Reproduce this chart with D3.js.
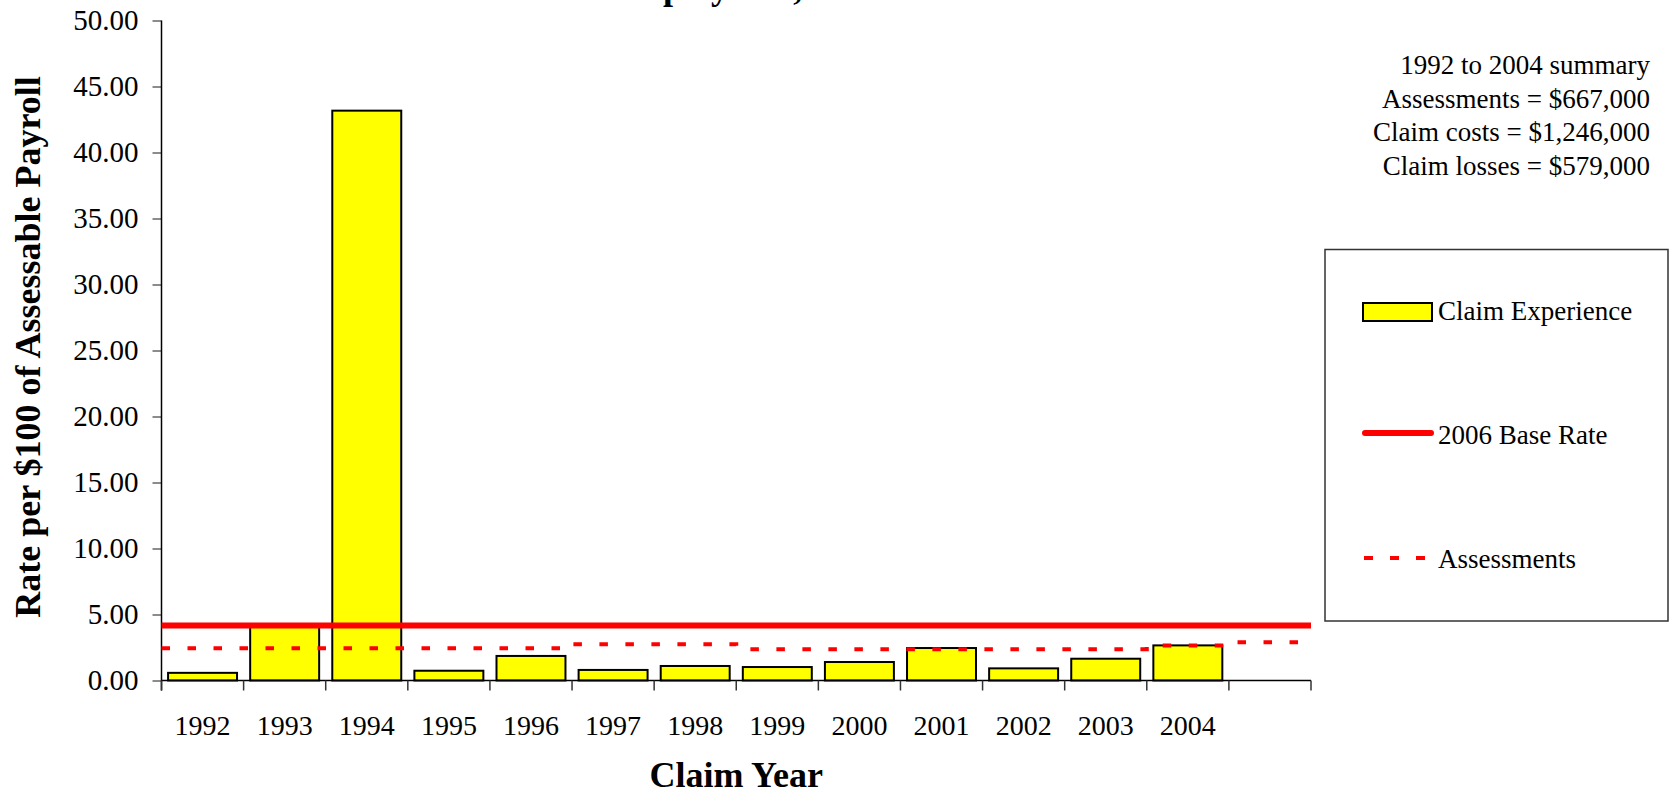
<!DOCTYPE html>
<html><head><meta charset="utf-8">
<script src="https://cdn.jsdelivr.net/npm/d3@7"></script>
<style>
html,body{margin:0;padding:0;background:#fff;}
svg{display:block;}
text{font-family:"Liberation Serif","Times New Roman",serif;fill:#000;}
</style>
</head><body>
<svg id="chart" width="1673" height="796"></svg>
<script>
// ---- data ----
const categories = ["1992","1993","1994","1995","1996","1997","1998","1999","2000","2001","2002","2003","2004","2005"];
const tickLabels = ["1992","1993","1994","1995","1996","1997","1998","1999","2000","2001","2002","2003","2004",""];
const claimExperience = [0.58,4.10,43.17,0.74,1.86,0.80,1.10,1.02,1.40,2.46,0.92,1.65,2.66,null];
const assessments = [2.44,2.44,2.44,2.44,2.44,2.75,2.75,2.37,2.37,2.37,2.37,2.37,2.65,2.89];
const baseRate = [4.17];
const yTicks = [0,5,10,15,20,25,30,35,40,45,50];
const summaryLines = ["1992 to 2004 summary","Assessments = $667,000","Claim costs = $1,246,000","Claim losses = $579,000"];
const legendLabels = ["Claim Experience","2006 Base Rate","Assessments"];
const titleText = "Employer A, 1992 to 2004";
const xTitle = "Claim Year";
const yTitle = "Rate per $100 of Assessable Payroll";

// ---- layout ----
const svg = d3.select("#chart");
const plotLeft = 161.5, plotRight = 1311, plotTop = 20.5, plotBottom = 680.5;

const x = d3.scaleBand().domain(categories).range([plotLeft, plotRight]).padding(0);
const xBar = d3.scaleBand().domain(categories).range([plotLeft, plotRight]).paddingInner(0.16).paddingOuter(0.08);
const y = d3.scaleLinear().domain([0, 50]).range([plotBottom, plotTop]);

// title (cut off at top as in the reference)
svg.append("text").attr("x", 609).attr("y", -1)
  .style("font-size", "36px").style("font-weight", "bold").text(titleText);

// bars
svg.append("g").selectAll("rect")
  .data(categories.map((c, i) => ({c, v: claimExperience[i]})).filter(d => d.v != null))
  .join("rect")
  .attr("x", d => xBar(d.c)).attr("width", xBar.bandwidth())
  .attr("y", d => y(d.v)).attr("height", d => y(0) - y(d.v))
  .attr("fill", "#FFFF00").attr("stroke", "#000").attr("stroke-width", 2);

// y axis
const yAxis = svg.append("g").attr("transform", `translate(${plotLeft},0)`)
  .call(d3.axisLeft(y).tickValues(yTicks).tickSize(9).tickPadding(14).tickFormat(d3.format(".2f")));
yAxis.select(".domain").remove();
yAxis.selectAll(".tick line").attr("stroke", "#666").attr("stroke-width", 1.5);
yAxis.selectAll(".tick text").style("font-size", "29px").style("font-family", '"Liberation Serif","Times New Roman",serif').attr("fill", "#000");

// axis lines
svg.append("line").attr("x1", plotLeft).attr("x2", plotLeft).attr("y1", y(50)).attr("y2", y(0) + 10)
  .attr("stroke", "#000").attr("stroke-width", 1.5);
svg.append("line").attr("x1", plotLeft).attr("x2", plotRight).attr("y1", y(0)).attr("y2", y(0))
  .attr("stroke", "#000").attr("stroke-width", 1.5);

// x boundary ticks
const bounds = categories.map(c => x(c)).concat([x.range()[1]]);
svg.append("g").selectAll("line").data(bounds).join("line")
  .attr("x1", d => d).attr("x2", d => d).attr("y1", y(0)).attr("y2", y(0) + 10)
  .attr("stroke", "#333").attr("stroke-width", 1.5);

// x labels
svg.append("g").selectAll("text").data(categories).join("text")
  .attr("x", c => x(c) + x.bandwidth() / 2).attr("y", 735)
  .attr("text-anchor", "middle").style("font-size", "28px")
  .text((c, i) => tickLabels[i]);

// assessments step line
const stepPts = categories.flatMap((c, i) => [[x(c), assessments[i]], [x(c) + x.bandwidth(), assessments[i]]]);
svg.append("path").datum(stepPts)
  .attr("d", d3.line().x(d => d[0]).y(d => y(d[1])))
  .attr("fill", "none").attr("stroke", "#FF0000").attr("stroke-width", 4)
  .attr("stroke-dasharray", "8.5 17.5");

// base rate line
svg.append("g").selectAll("line").data(baseRate).join("line")
  .attr("x1", plotLeft).attr("x2", plotRight).attr("y1", d => y(d)).attr("y2", d => y(d))
  .attr("stroke", "#FF0000").attr("stroke-width", 6);

// summary text
svg.append("g").selectAll("text").data(summaryLines).join("text")
  .attr("x", 1650).attr("y", (d, i) => 74 + i * 33.7)
  .attr("text-anchor", "end").style("font-size", "27px").text(d => d);

// legend
const lg = svg.append("g");
lg.append("rect").attr("x", 1325).attr("y", 249.5).attr("width", 343).attr("height", 371.5)
  .attr("fill", "#fff").attr("stroke", "#333").attr("stroke-width", 1.5);
lg.append("rect").attr("x", 1363).attr("y", 303).attr("width", 69).attr("height", 18)
  .attr("fill", "#FFFF00").attr("stroke", "#000").attr("stroke-width", 2);
lg.append("line").attr("x1", 1365).attr("x2", 1431).attr("y1", 433).attr("y2", 433)
  .attr("stroke", "#FF0000").attr("stroke-width", 6).attr("stroke-linecap", "round");
lg.append("line").attr("x1", 1364).attr("x2", 1425).attr("y1", 558).attr("y2", 558)
  .attr("stroke", "#FF0000").attr("stroke-width", 4).attr("stroke-dasharray", "9 17");
lg.selectAll("text.lab").data(legendLabels).join("text").attr("class", "lab")
  .attr("x", 1438).attr("y", (d, i) => 320 + i * 124)
  .style("font-size", "27px").text(d => d);

// axis titles
svg.append("text").attr("x", (plotLeft + plotRight) / 2).attr("y", 787)
  .attr("text-anchor", "middle").style("font-size", "36px").style("font-weight", "bold").text(xTitle);
svg.append("text").attr("transform", "translate(40,347) rotate(-90)")
  .attr("text-anchor", "middle").style("font-size", "36px").style("font-weight", "bold").text(yTitle);
</script>
</body></html>
